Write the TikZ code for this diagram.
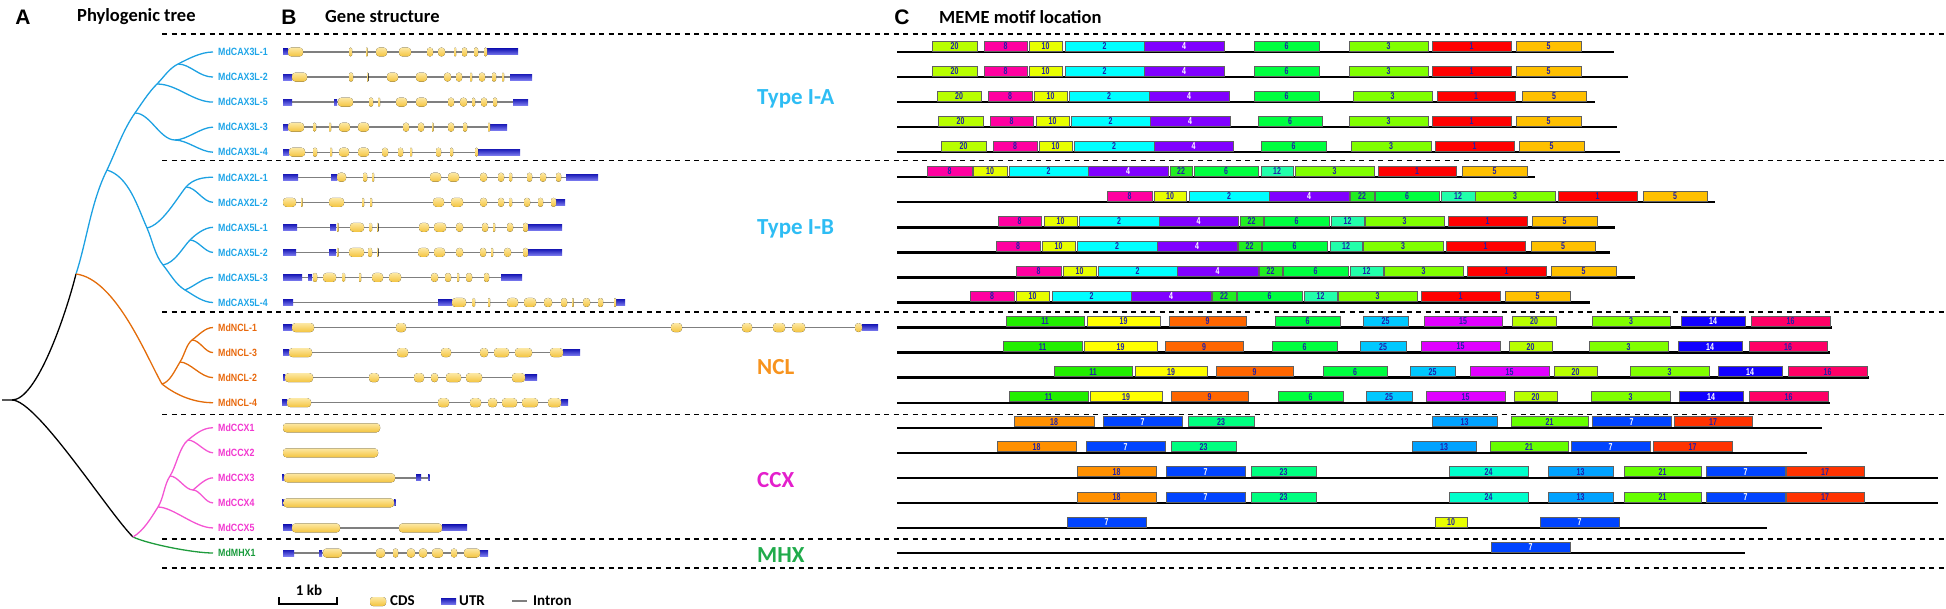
\documentclass[tikz,border=0pt]{standalone}
\usepackage{fontspec}
\setmainfont{Carlito}
\newfontfamily\genefont[FakeStretch=0.84]{Liberation Sans}
\newfontfamily\motfont[FakeStretch=0.7]{Liberation Sans}
\newfontfamily\headfont{Liberation Sans}
\usetikzlibrary{calc}

% tree / label colours
\definecolor{cblue}{HTML}{1DA1E2}
\definecolor{corange}{HTML}{E36C0A}
\definecolor{cpink}{HTML}{F455D3}
\definecolor{cgreen}{HTML}{1E9B3C}
\definecolor{lblue}{HTML}{1EA5E8}
\definecolor{lorange}{HTML}{E8680C}
\definecolor{lpink}{HTML}{F236D0}
\definecolor{lgreen}{HTML}{179A3A}
\definecolor{tIA}{HTML}{2EBDF4}
\definecolor{tNCL}{HTML}{F7931E}
\definecolor{tCCX}{HTML}{E41FCC}
\definecolor{tMHX}{HTML}{20AB4B}
% gene structure colours
\definecolor{intgray}{HTML}{7F7F7F}
\definecolor{cdsT}{HTML}{FCE8A4}
\definecolor{cdsM}{HTML}{F9D670}
\definecolor{cdsB}{HTML}{F2C33E}
\definecolor{utrT}{HTML}{1C1CB8}
\definecolor{utrB}{HTML}{7878EE}
% motif colours
\definecolor{mtxt}{HTML}{2020A8}
\definecolor{mgray}{HTML}{606060}
\definecolor{m1}{HTML}{FF0000}
\definecolor{m2}{HTML}{00FFFF}
\definecolor{m3}{HTML}{80FF00}
\definecolor{m4}{HTML}{8000FF}
\definecolor{m5}{HTML}{FFC000}
\definecolor{m6}{HTML}{00FF40}
\definecolor{m7}{HTML}{0044FF}
\definecolor{m8}{HTML}{FF00A0}
\definecolor{m9}{HTML}{FF6600}
\definecolor{m10}{HTML}{E8FF00}
\definecolor{m11}{HTML}{22EE00}
\definecolor{m12}{HTML}{22FFAA}
\definecolor{m13}{HTML}{00A2FF}
\definecolor{m14}{HTML}{1100FF}
\definecolor{m15}{HTML}{E000FF}
\definecolor{m16}{HTML}{FF0066}
\definecolor{m17}{HTML}{FF3300}
\definecolor{m18}{HTML}{FF9000}
\definecolor{m19}{HTML}{FFFF00}
\definecolor{m20}{HTML}{B8FF00}
\definecolor{m21}{HTML}{66FF00}
\definecolor{m22}{HTML}{22EE22}
\definecolor{m23}{HTML}{00FF80}
\definecolor{m24}{HTML}{00FFCC}
\definecolor{m25}{HTML}{00C8FF}

\newcommand\rowy[1]{\pgfmathsetmacro\ry{52+25.05*(#1-1)}}
% row, start, end, UTR list, CDS list
\newcommand\gene[5]{%
  \rowy{#1}
  \draw[intron] (#2,\ry) -- (#3,\ry);
  \if\relax\detokenize{#4}\relax\else
  \foreach \a/\b in {#4} {\fill[utrbox] (\a,\ry-3) rectangle (\b,\ry+3);}
  \fi
  \foreach \a/\b in {#5} {%
    \pgfmathsetmacro\rc{min(3.5,(\b-\a)/2)}
    \fill[cdsbox,rounded corners=\rc pt] (\a,\ry-4.5) rectangle (\b,\ry+4.5);}
}
% row, end, motif list x1/x2/number
\newcommand\motifs[3]{%
  \rowy{#1}
  \draw[baseln] (897,\ry) -- (#2,\ry);
  \foreach \a/\b/\n in {#3} {%
    \draw[mbox,fill=m\n] (\a,\ry-11) rectangle (\b,\ry-1);
    \node[mlab,wt\n/.try] (m#1-\a) at ({(\a+\b)/2},\ry-6) {\n};}
}

\begin{document}
\begin{tikzpicture}[x=1pt,y=-1pt,
  branch/.style={line width=1.3pt},
  genelab/.style={anchor=west,inner sep=0pt,font=\genefont\bfseries\fontsize{10.5}{12}\selectfont},
  typelab/.style={anchor=base west,inner sep=0pt,font=\bfseries\fontsize{23}{26}\selectfont},
  head/.style={anchor=west,inner sep=0pt,font=\bfseries\fontsize{18.5}{20}\selectfont},
  panel/.style={inner sep=0pt,font=\headfont\bfseries\fontsize{21}{24}\selectfont},
  leg/.style={anchor=west,inner sep=0pt,font=\bfseries\fontsize{15}{17}\selectfont},
  sep/.style={dash pattern=on 5pt off 4.5pt,line width=1.2pt},
  intron/.style={draw=intgray,line width=1.3pt},
  cdsbox/.style={top color=cdsT,bottom color=cdsB,middle color=cdsM},
  utrbox/.style={top color=utrT,bottom color=utrB},
  baseln/.style={line width=2.4pt},
  mbox/.style={draw=mgray,line width=0.8pt},
  mlab/.style={inner sep=0pt,text=mtxt,font=\motfont\bfseries\fontsize{10}{10}\selectfont},
  wt4/.style={text=white},wt7/.style={text=white},wt14/.style={text=white}]
\useasboundingbox (0,0) rectangle (1946,609);

% headers
\node[panel] (pA) at (23,17) {A};
\node[head] (hA) at (77,17) {Phylogenic tree};
\node[panel] (pB) at (289,17) {B};
\node[head] (hB) at (325,17) {Gene structure};
\node[panel] (pC) at (902,17) {C};
\node[head] (hC) at (939,17) {MEME motif location};

% group separators
\foreach \d in {34,160.5,312,414.5,539,568}
  \draw[sep] (162,\d) -- (1946,\d);

% gene labels and leaves
\foreach \i/\name/\col in {1/MdCAX3L-1/lblue,2/MdCAX3L-2/lblue,3/MdCAX3L-5/lblue,
    4/MdCAX3L-3/lblue,5/MdCAX3L-4/lblue,6/MdCAX2L-1/lblue,7/MdCAX2L-2/lblue,
    8/MdCAX5L-1/lblue,9/MdCAX5L-2/lblue,10/MdCAX5L-3/lblue,11/MdCAX5L-4/lblue,
    12/MdNCL-1/lorange,13/MdNCL-3/lorange,14/MdNCL-2/lorange,15/MdNCL-4/lorange,
    16/MdCCX1/lpink,17/MdCCX2/lpink,18/MdCCX3/lpink,19/MdCCX4/lpink,20/MdCCX5/lpink,
    21/MdMHX1/lgreen}{
  \rowy{\i}
  \coordinate (L\i) at (213,\ry);
  \node[genelab,text=\col] (g\i) at (218,\ry) {\name};
}

% tree
\coordinate (stub) at (2,400);
\coordinate (R) at (12,400);
\coordinate (A) at (76,274);
\coordinate (P) at (133,537);
\coordinate (B1) at (107,170);
\coordinate (B2) at (135,113);
\coordinate (B3) at (157,84);
\coordinate (B4) at (178,64);
\coordinate (C34) at (175,140);
\coordinate (IB) at (147,228);
\coordinate (D1) at (186,187);
\coordinate (D2) at (163,265);
\coordinate (D3) at (190,240);
\coordinate (D4) at (185,290);
\coordinate (O1) at (162,384);
\coordinate (O2) at (180,362);
\coordinate (O3) at (192,340);
\coordinate (Q1) at (158,507);
\coordinate (Q2) at (170,476);
\coordinate (Q3) at (188,440);
\coordinate (Q4) at (193,490);

\draw[branch] (stub) -- (R) .. controls +(25,0) and +(-10,40) .. (A);
\draw[branch] (R) .. controls +(25,0) and +(-25,-25) .. (P);
\draw[branch,cgreen] (P) .. controls +(15,7) and +(-20,0) .. (L21);

\draw[branch,cblue] (A) .. controls +(11,-34) and +(-16,32) .. (B1)
  .. controls +(9,-19) and +(-12,17) .. (B2)
  .. controls +(7,-10) and +(-8.5,8.5) .. (B3)
  .. controls +(7,-7) and +(-9,4.5) .. (B4)
  .. controls +(10.7,-5.4) and +(-12,0) .. (L1);
\draw[branch,cblue] (B4) .. controls +(12,0) and +(-14,0) .. (L2);
\draw[branch,cblue] (B3) .. controls +(20,0) and +(-20,0) .. (L3);
\draw[branch,cblue] (B2) .. controls +(15,0) and +(-15,0) .. (C34);
\draw[branch,cblue] (C34) .. controls +(12,0) and +(-12,0) .. (L4);
\draw[branch,cblue] (C34) .. controls +(12,0) and +(-12,0) .. (L5);
\draw[branch,cblue] (B1) .. controls +(22,6.6) and +(-9.4,-21) .. (IB)
  .. controls +(5.3,11.8) and +(-8.3,-10) .. (D2)
  .. controls +(7,8.5) and +(-9.5,-5.6) .. (D4)
  .. controls +(8.6,5.1) and +(-10,0) .. (L11);
\draw[branch,cblue] (D4) .. controls +(10,-4) and +(-10,0) .. (L10);
\draw[branch,cblue] (IB) .. controls +(15,-3) and +(-9,11) .. (D1)
  .. controls +(7,-8) and +(-10,0) .. (L6);
\draw[branch,cblue] (D1) .. controls +(10,0) and +(-10,0) .. (L7);
\draw[branch,cblue] (D2) .. controls +(12,-2) and +(-7,7) .. (D3)
  .. controls +(6,-6) and +(-8,0) .. (L8);
\draw[branch,cblue] (D3) .. controls +(8,0) and +(-8,0) .. (L9);

\draw[branch,corange] (A) .. controls +(40,5) and +(-15,-26) .. (O1)
  .. controls +(15,12) and +(-18,0) .. (L15);
\draw[branch,corange] (O1) .. controls +(8,-2) and +(-5,8) .. (O2)
  .. controls +(5,-8) and +(-6,5) .. (O3)
  .. controls +(7,-5) and +(-8,0) .. (L12);
\draw[branch,corange] (O3) .. controls +(8,0) and +(-8,0) .. (L13);
\draw[branch,corange] (O2) .. controls +(10,0) and +(-12,0) .. (L14);

\draw[branch,cpink] (P) .. controls +(11,-6.7) and +(-7,11) .. (Q1)
  .. controls +(5.8,-9.3) and +(-6,9) .. (Q2)
  .. controls +(6,-9) and +(-8.6,6.8) .. (Q3)
  .. controls +(7.8,-6.2) and +(-10,0) .. (L16);
\draw[branch,cpink] (Q3) .. controls +(8,0) and +(-8,0) .. (L17);
\draw[branch,cpink] (Q2) .. controls +(8,0) and +(-8,0) .. (Q4);
\draw[branch,cpink] (Q4) .. controls +(6,-5) and +(-7,0) .. (L18);
\draw[branch,cpink] (Q4) .. controls +(7,0) and +(-8,0) .. (L19);
\draw[branch,cpink] (Q1) .. controls +(15,0) and +(-18,0) .. (L20);

% gene structures
\gene{1}{283}{518}{283/288,487/518}{288/303,349/352,366/367.5,376/387,399/411,427/433,438/445,454/456,462/467,474/478,484/487}
\gene{2}{283}{532}{283/292,510/532}{292/307,349/353,367/368.5,387/398,416/427,444/451,456/462,470/472,479/485,492/496,502/504}
\gene{3}{283}{528}{283/292,334/337,513/528}{338/353,369/373,378/380,396/407,416/427,448/454,460/467,472/475,481/487,493/497}
\gene{4}{283}{507}{283/288,490/507}{288/304,313/316,329/331,339/350,358/369,403/409,418/424,432/433.5,448/454,463/467,488/490}
\gene{5}{283}{520}{283/289,478/520}{289/305,313/317,330/332,339/349,358/369,382/388,398/403,410/412,436/441,450/453,475/478}
\gene{6}{283}{598}{283/298,331/337,566/598}{337/346,363/367,372/374,430/441,448/459,480/487,498/504,509/512,527/532,540/546,556/561}
\gene{7}{283}{565}{556/565}{283/296,301/302.5,329/344,362/364,370/372,433/444,451/463,480/487,498/504,509/512,524/530,538/543,551/556}
\gene{8}{283}{562}{283/297,330/336,528/562}{337/338.5,350/364,369/372,377/378.5,419/429,434/446,456/463,482/488,493/495,507/513,523/528}
\gene{9}{283}{562}{283/296,329/336,528/562}{337/338.5,349/364,368/372,377/378.5,418/429,434/445,456/463,480/486,491/493,504/511,523/528}
\gene{10}{283}{522}{283/302,308/312,501/522}{313/317,323/336,342/345,359/361,372/383,389/401,431/438,445/451,457/459,466/472,484/489}
\gene{11}{283}{625}{283/293,438/452,616/625}{452/466,472/475,488/490,507/518,524/536,544/552,561/567,572/573.5,583/590,598/603,614/616}
\gene{12}{283}{878}{283/292,862/878}{292/314,396/406,671/682,742/752,773/785,792/805,855/862}
\gene{13}{283}{580}{283/289,563/580}{289/312,397/408,441/451,480/488,494/509,515/532,550/563}
\gene{14}{283}{537}{283/285,525/537}{285/313,369/379,414/424,431/438,446/461,466/482,512/525}
\gene{15}{282}{568}{282/287,561/568}{287/311,438/449,470/481,488/497,502/517,522/538,548/561}
\gene{16}{283}{380}{}{283/380}
\gene{17}{283}{378}{}{283/378}
\gene{18}{282}{429}{282/284,416/421,428/429.5}{284/395}
\gene{19}{282}{395}{282/283.5,394/395.5}{283.5/394}
\gene{20}{283}{467}{283/292,442/467}{292/340,399/442}
\gene{21}{283}{488}{283/294,319/322,480/488}{323/342,376/385,393/398,407/415,419/427,432/443,451/457,464/480}

% group labels
\node[typelab,text=tIA] (tA) at (757,105) {Type I-A};
\node[typelab,text=tIA] (tB) at (757,235) {Type I-B};
\node[typelab,text=tNCL] (tN) at (757,375) {NCL};
\node[typelab,text=tCCX] (tC) at (757,487) {CCX};
\node[typelab,text=tMHX] (tM) at (757,562) {MHX};

% motif locations
\motifs{1}{1614}{932/977/20,984/1027/8,1029/1062/10,1065/1144/2,1144/1224/4,1254/1319/6,1349/1428/3,1432/1511/1,1516/1581/5}
\motifs{2}{1628}{932/977/20,984/1027/8,1029/1062/10,1065/1144/2,1144/1224/4,1254/1319/6,1349/1428/3,1432/1511/1,1516/1581/5}
\motifs{3}{1595}{937/981/20,988/1032/8,1034/1067/10,1069/1149/2,1149/1229/4,1254/1319/6,1353/1432/3,1437/1515/1,1522/1586/5}
\motifs{4}{1617}{938/983/20,990/1033/8,1036/1069/10,1071/1150/2,1150/1230/4,1258/1322/6,1349/1428/3,1432/1511/1,1516/1581/5}
\motifs{5}{1620}{941/986/20,993/1037/8,1039/1072/10,1074/1154/2,1154/1233/4,1261/1326/6,1351/1431/3,1435/1514/1,1519/1584/5}
\motifs{6}{1535}{927/972/8,973/1007/10,1009/1088/2,1088/1168/4,1170/1192/22,1194/1258/6,1261/1293/12,1295/1374/3,1378/1456/1,1462/1527/5}
\motifs{7}{1715}{1107/1152/8,1154/1186/10,1189/1269/2,1269/1349/4,1350/1374/22,1375/1439/6,1441/1475/12,1475/1555/3,1558/1637/1,1643/1707/5}
\motifs{8}{1615}{998/1041/8,1044/1077/10,1079/1159/2,1159/1238/4,1240/1263/22,1264/1329/6,1331/1364/12,1365/1444/3,1448/1527/1,1532/1597/5}
\motifs{9}{1610}{996/1040/8,1042/1075/10,1077/1157/2,1157/1237/4,1238/1261/22,1262/1327/6,1330/1362/12,1363/1443/3,1446/1525/1,1531/1595/5}
\motifs{10}{1635}{1016/1061/8,1063/1096/10,1098/1177/2,1177/1258/4,1259/1282/22,1283/1348/6,1350/1383/12,1384/1463/3,1467/1546/1,1551/1616/5}
\motifs{11}{1590}{970/1014/8,1016/1049/10,1052/1131/2,1131/1211/4,1212/1236/22,1237/1302/6,1304/1337/12,1338/1417/3,1421/1500/1,1505/1570/5}
\motifs{12}{1832}{1006/1084/11,1087/1160/19,1169/1246/9,1275/1340/6,1363/1408/25,1424/1502/15,1512/1556/20,1592/1670/3,1681/1745/14,1751/1830/16}
\motifs{13}{1830}{1003/1082/11,1084/1157/19,1165/1243/9,1272/1337/6,1360/1406/25,1421/1500/15,1509/1552/20,1589/1668/3,1678/1742/14,1749/1827/16}
\motifs{14}{1869}{1054/1132/11,1135/1207/19,1216/1293/9,1323/1387/6,1410/1455/25,1470/1549/15,1554/1597/20,1630/1709/3,1718/1782/14,1788/1867/16}
\motifs{15}{1830}{1009/1088/11,1090/1162/19,1171/1248/9,1278/1343/6,1366/1412/25,1426/1505/15,1514/1557/20,1591/1670/3,1679/1743/14,1749/1828/16}
\motifs{16}{1822}{1014/1094/18,1103/1182/7,1188/1254/23,1432/1497/13,1511/1588/21,1592/1671/7,1674/1752/17}
\motifs{17}{1807}{997/1076/18,1086/1165/7,1171/1236/23,1412/1476/13,1490/1568/21,1571/1650/7,1653/1732/17}
\motifs{18}{1938}{1077/1156/18,1166/1245/7,1251/1316/23,1449/1528/24,1548/1613/13,1624/1701/21,1706/1785/7,1786/1864/17}
\motifs{19}{1938}{1077/1156/18,1166/1245/7,1251/1316/23,1449/1528/24,1548/1613/13,1624/1701/21,1706/1785/7,1786/1864/17}
\motifs{20}{1767}{1067/1146/7,1435/1467/10,1540/1619/7}
\motifs{21}{1745}{1491/1570/7}

% legend
\node[leg,anchor=center] (kb) at (309,590) {1 kb};
\draw[line width=1.5pt] (279,597) -- (279,604) -- (337,604) -- (337,597);
\fill[cdsbox,rounded corners=3pt] (370,597) rectangle (386,606);
\node[leg] (lcds) at (390,601) {CDS};
\fill[utrbox] (441,598.5) rectangle (456,604.5);
\node[leg] (lutr) at (459,601) {UTR};
\draw[intron] (512,601) -- (527,601);
\node[leg] (lint) at (533,601) {Intron};
\end{tikzpicture}
\end{document}
